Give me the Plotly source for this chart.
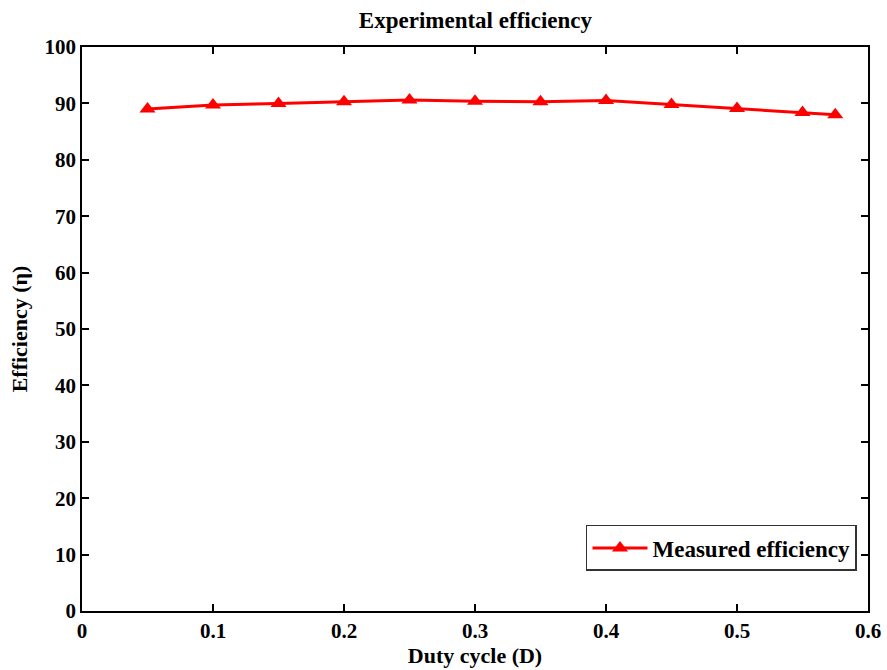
import plotly.graph_objects as go

duty = [0.05, 0.1, 0.15, 0.2, 0.25, 0.3, 0.35, 0.4, 0.45, 0.5, 0.55, 0.575]
efficiency = [89.0, 89.7, 90.0, 90.3, 90.6, 90.4, 90.3, 90.5, 89.8, 89.1, 88.4, 88.0]
x_ticks = [0, 0.1, 0.2, 0.3, 0.4, 0.5, 0.6]
x_tick_labels = ["0", "0.1", "0.2", "0.3", "0.4", "0.5", "0.6"]
y_ticks = [0, 10, 20, 30, 40, 50, 60, 70, 80, 90, 100]

font_family = "Liberation Serif, Times New Roman, serif"

fig = go.Figure()
fig.add_trace(go.Scatter(
    x=duty, y=efficiency, mode="lines+markers", name="<b>Measured efficiency</b>",
    line=dict(color="#ff0000", width=3),
    marker=dict(symbol="triangle-up", size=14, color="#ff0000"),
))

axis_common = dict(
    showline=True, mirror="ticks", linecolor="black", linewidth=1.5,
    ticks="inside", ticklen=7, tickwidth=1.5, tickcolor="black",
    showgrid=False, zeroline=False, automargin=False,
    tickfont=dict(family=font_family, size=21, color="black", weight="bold"),
)

fig.update_layout(
    width=887, height=670,
    margin=dict(l=82, r=19, t=47, b=59),
    paper_bgcolor="white", plot_bgcolor="white",
    title=dict(text="<b>Experimental efficiency</b>", x=0.536, xanchor="center",
               y=1 - 20/670, yanchor="middle",
               font=dict(family=font_family, size=23, color="black")),
    xaxis=dict(range=[0, 0.6], tickvals=x_ticks, ticktext=x_tick_labels,
               title=dict(text="<b>Duty cycle (D)</b>", standoff=2,
                          font=dict(family=font_family, size=22, color="black")),
               **axis_common),
    yaxis=dict(range=[0, 100], tickvals=y_ticks,
               title=dict(text="<b>Efficiency (η)</b>", standoff=11,
                          font=dict(family=font_family, size=22, color="black")),
               **axis_common),
    legend=dict(x=0.986, y=0.071, xanchor="right", yanchor="bottom",
                bgcolor="white", bordercolor="#333333", borderwidth=1.5,
                itemwidth=55, tracegroupgap=0,
                font=dict(family=font_family, size=23, color="black")),
    showlegend=True,
)

fig.write_html("out.html")
